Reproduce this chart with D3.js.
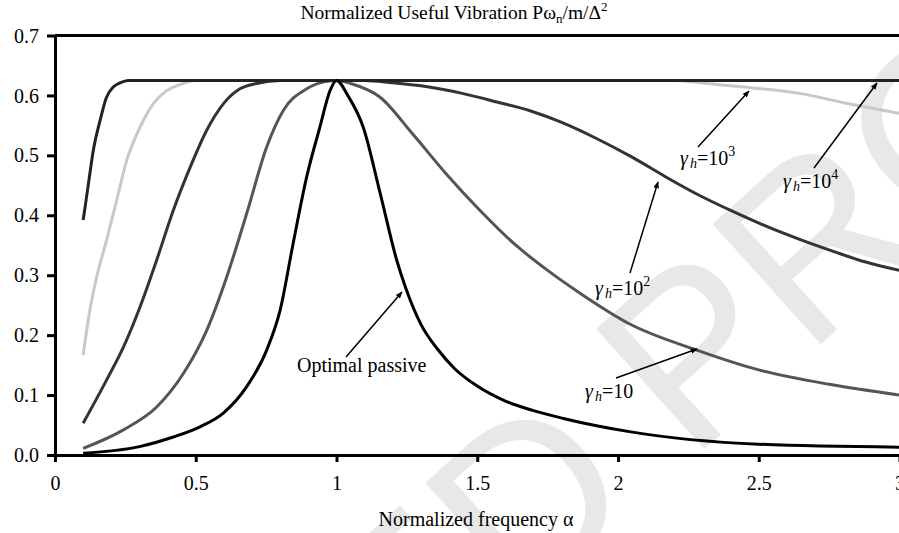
<!DOCTYPE html>
<html>
<head>
<meta charset="utf-8">
<script src="https://cdn.jsdelivr.net/npm/d3@7"></script>
<style>
	body { margin: 0; background: #fff; }
	svg { display: block; font-family: "Liberation Serif", "Times New Roman", serif; }
</style>
</head>
<body>
<svg id="chart" width="899" height="533"></svg>
<script>
// [alpha, normalized power]
var optimalPassive = [[0.1,0.003],[0.3,0.014],[0.42,0.03],[0.515,0.047],[0.598,0.07],[0.681,0.114],[0.752,0.175],[0.8,0.242],[0.846,0.353],[0.894,0.464],[0.941,0.547],[0.977,0.608],[1.0,0.625],[1.04,0.6],[1.095,0.547],[1.155,0.437],[1.214,0.325],[1.245,0.28],[1.3,0.218],[1.36,0.176],[1.42,0.144],[1.5,0.115],[1.6,0.09],[1.7,0.074],[1.806,0.061],[2.04,0.039],[2.5,0.018],[3.0,0.013]];
var gamma10 = [[0.1,0.011],[0.243,0.042],[0.361,0.08],[0.456,0.136],[0.539,0.208],[0.61,0.297],[0.681,0.403],[0.752,0.514],[0.811,0.575],[0.894,0.611],[0.96,0.623],[1.0,0.625],[1.05,0.62],[1.155,0.597],[1.27,0.536],[1.39,0.469],[1.51,0.408],[1.63,0.353],[1.75,0.308],[1.865,0.27],[2.04,0.219],[2.28,0.175],[2.5,0.142],[2.75,0.118],[3.0,0.1]];
var gamma100 = [[0.1,0.053],[0.183,0.125],[0.243,0.18],[0.302,0.247],[0.361,0.325],[0.42,0.408],[0.48,0.48],[0.539,0.542],[0.598,0.586],[0.657,0.611],[0.716,0.62],[0.8,0.625],[1.1,0.625],[1.2,0.621],[1.3,0.616],[1.45,0.603],[1.57,0.589],[1.69,0.574],[1.8,0.555],[1.92,0.529],[2.05,0.497],[2.17,0.464],[2.29,0.433],[2.41,0.406],[2.53,0.381],[2.65,0.359],[2.77,0.339],[2.88,0.322],[3.0,0.308]];
var gamma1000 = [[0.1,0.167],[0.124,0.242],[0.148,0.297],[0.183,0.358],[0.219,0.425],[0.255,0.492],[0.302,0.547],[0.349,0.586],[0.397,0.608],[0.444,0.618],[0.5,0.625],[2.2,0.625],[2.29,0.621],[2.47,0.613],[2.65,0.603],[2.82,0.586],[3.0,0.57]];
var gamma10000 = [[0.1,0.392],[0.107,0.414],[0.124,0.47],[0.136,0.508],[0.16,0.558],[0.183,0.597],[0.207,0.614],[0.231,0.621],[0.26,0.625],[3.0,0.625]];

var xTicks = [0, 0.5, 1, 1.5, 2, 2.5, 3];
var yTicks = [0, 0.1, 0.2, 0.3, 0.4, 0.5, 0.6, 0.7];

var series = [
	{ name: "1e3", pts: gamma1000, color: "#c8c8c8", width: 3 },
	{ name: "10", pts: gamma10, color: "#555", width: 3 },
	{ name: "1e2", pts: gamma100, color: "#333", width: 3 },
	{ name: "1e4", pts: gamma10000, color: "#222", width: 3 },
	{ name: "passive", pts: optimalPassive, color: "#000", width: 3 }
];

var serif = "'Liberation Serif', 'Times New Roman', serif";
var svg = d3.select("#chart");
var x = d3.scaleLinear().domain([0, 3]).range([55, 899.5]);
var y = d3.scaleLinear().domain([0, 0.7]).range([455, 35.5]);

// watermark
var wm = svg.append("g")
	.attr("transform", "translate(690,462) rotate(-42)")
	.style("font-family", "'Liberation Sans', Arial, sans-serif")
	.style("font-size", "235px")
	.attr("fill", "#e8e8e8");
wm.append("text").attr("x", -60).attr("text-anchor", "end").text("UNCORRECTED");
wm.append("text").attr("x", 0).text("PROOF");

var line = d3.line()
	.x(function(d) { return x(d[0]); })
	.y(function(d) { return y(d[1]); })
	.curve(d3.curveMonotoneX);

svg.append("g").selectAll("path")
	.data(series)
	.enter()
	.append("path")
	.attr("d", function(d) { return line(d.pts); })
	.attr("fill", "none")
	.attr("stroke", function(d) { return d.color; })
	.attr("stroke-width", function(d) { return d.width; })
	.attr("stroke-linejoin", "round");

// axes
var xAxis = svg.append("g")
	.attr("transform", "translate(0," + y(0) + ")")
	.call(d3.axisBottom(x).tickValues(xTicks).tickSize(7).tickSizeOuter(0).tickPadding(18)
		.tickFormat(function(d) { return d; }));
var yAxis = svg.append("g")
	.attr("transform", "translate(" + x(0) + ",0)")
	.call(d3.axisLeft(y).tickValues(yTicks).tickSize(8).tickSizeOuter(0).tickPadding(8)
		.tickFormat(d3.format(".1f")));
svg.selectAll(".domain, .tick line").attr("stroke", "#000").attr("stroke-width", 3);
svg.selectAll(".tick text")
	.attr("fill", "#000")
	.style("font-family", serif)
	.style("font-size", "20px");
xAxis.selectAll(".tick text").attr("dy", "0.5em");
yAxis.selectAll(".tick text").attr("dy", "0.33em");

// top frame
svg.append("line")
	.attr("x1", x(0)).attr("x2", 899)
	.attr("y1", y(0.7)).attr("y2", y(0.7))
	.attr("stroke", "#000").attr("stroke-width", 3);

// titles
var title = svg.append("text")
	.attr("x", 454).attr("y", 19)
	.attr("text-anchor", "middle")
	.style("font-family", serif)
	.style("font-size", "19.5px");
title.append("tspan").text("Normalized Useful Vibration P\u03c9");
title.append("tspan").attr("dy", 4).style("font-size", "13px").text("n");
title.append("tspan").attr("dy", -4).text("/m/\u0394");
title.append("tspan").attr("dy", -8).style("font-size", "13px").text("2");

svg.append("text")
	.attr("x", 476).attr("y", 526)
	.attr("text-anchor", "middle")
	.style("font-family", serif)
	.style("font-size", "20px")
	.text("Normalized frequency \u03b1");

// annotations
svg.append("defs").append("marker")
	.attr("id", "arrow")
	.attr("viewBox", "0 0 10 10")
	.attr("refX", 9).attr("refY", 5)
	.attr("markerWidth", 7).attr("markerHeight", 7)
	.attr("markerUnits", "userSpaceOnUse")
	.attr("orient", "auto")
	.append("path")
	.attr("d", "M0,1 L10,5 L0,9 Z")
	.attr("fill", "#000");

var notes = [
	{ sub: null, text: "Optimal passive", tx: 297, ty: 372, x1: 346, y1: 357, x2: 402, y2: 292 },
	{ sup: null, text: "=10", tx: 585, ty: 398, x1: 616, y1: 378, x2: 697, y2: 349 },
	{ sup: "2", text: "=10", tx: 595, ty: 295, x1: 630, y1: 273, x2: 658, y2: 182 },
	{ sup: "3", text: "=10", tx: 680, ty: 165, x1: 698, y1: 147, x2: 749, y2: 91 },
	{ sup: "4", text: "=10", tx: 783, ty: 188, x1: 814, y1: 168, x2: 877, y2: 83 }
];

notes.forEach(function(n, i) {
	svg.append("line")
		.attr("x1", n.x1).attr("y1", n.y1)
		.attr("x2", n.x2).attr("y2", n.y2)
		.attr("stroke", "#000").attr("stroke-width", 1.5)
		.attr("marker-end", "url(#arrow)");
	var t = svg.append("text")
		.attr("x", n.tx).attr("y", n.ty)
		.style("font-family", serif)
		.style("font-size", "20px");
	if (i == 0) {
		t.text(n.text);
		return;
	}
	t.append("tspan").style("font-style", "italic").text("\u03b3");
	t.append("tspan").attr("dy", 3).attr("dx", 2).style("font-style", "italic").style("font-size", "14px").text("h");
	t.append("tspan").attr("dy", -3).text(n.text);
	if (n.sup) t.append("tspan").attr("dy", -9).style("font-size", "14px").text(n.sup);
});
</script>
</body>
</html>
